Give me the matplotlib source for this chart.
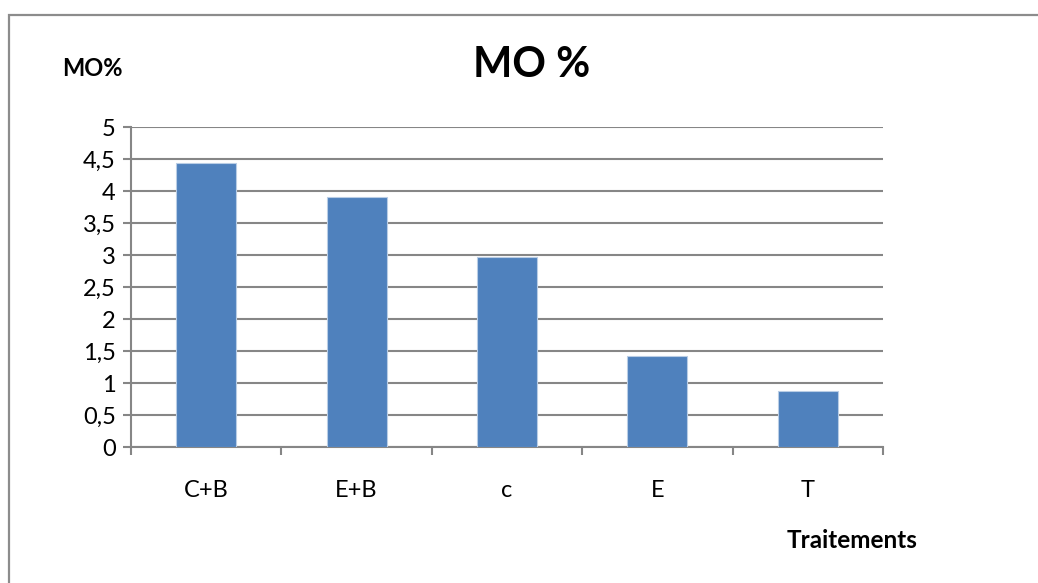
import matplotlib
matplotlib.use("Agg")
import matplotlib.pyplot as plt
from matplotlib.patches import Rectangle
from matplotlib.ticker import FixedLocator, FuncFormatter
import numpy as np

plt.rcParams['font.family'] = ['Lato', 'DejaVu Sans']

categories = ["C+B", "E+B", "c", "E", "T"]
values = [4.43, 3.90, 2.97, 1.42, 0.87]
y_ticks = [0, 0.5, 1, 1.5, 2, 2.5, 3, 3.5, 4, 4.5, 5]

W, H = 1038, 583
fig = plt.figure(figsize=(W / 100, H / 100), dpi=100)

# outer chart frame (top and left edges visible)
fig.patches.append(Rectangle((9 / W, -0.1), 1.2, (H - 15) / H + 0.1,
                             transform=fig.transFigure, fill=False,
                             edgecolor='#8c8c8c', linewidth=1.6))

left, right, top, bottom = 131, 883, 127, 447
ax = fig.add_axes([left / W, 1 - bottom / H, (right - left) / W, (bottom - top) / H])

x = np.arange(len(categories))
ax.bar(x, values, width=0.4, color='#4F81BD', edgecolor='#b9cde5',
       linewidth=0.8, zorder=3)

ax.set_xlim(-0.5, len(categories) - 0.5)
ax.set_ylim(0, 5)
ax.yaxis.set_major_locator(FixedLocator(y_ticks))
ax.yaxis.set_major_formatter(FuncFormatter(lambda v, p: f"{v:g}".replace('.', ',')))
ax.grid(axis='y', color='#868686', linewidth=1.5, zorder=0)

# x ticks at category boundaries, labels centered under bars
ax.set_xticks(np.arange(-0.5, len(categories)), minor=False)
ax.set_xticklabels([])
ax.set_xticks(x, minor=True)
ax.set_xticklabels(categories, minor=True, fontsize=17)
ax.tick_params(axis='x', which='major', length=6, color='#868686', width=1.5)
ax.tick_params(axis='x', which='minor', length=0, pad=24)
ax.tick_params(axis='y', length=6, color='#868686', width=1.5, labelsize=17, pad=5)

for s in ['top', 'right']:
    ax.spines[s].set_visible(False)
for s in ['left', 'bottom']:
    ax.spines[s].set_color('#868686')
    ax.spines[s].set_linewidth(1.5)

fig.text(532 / W, 1 - 65 / H, "MO %", ha='center', va='center',
         fontsize=30, fontweight='bold')
fig.text(92 / W, 1 - 68 / H, "MO%", ha='center', va='center',
         fontsize=17, fontweight='bold')
fig.text(852 / W, 1 - 540 / H, "Traitements", ha='center', va='center',
         fontsize=17.5, fontweight='bold')

fig.savefig("out.png", dpi=100)
